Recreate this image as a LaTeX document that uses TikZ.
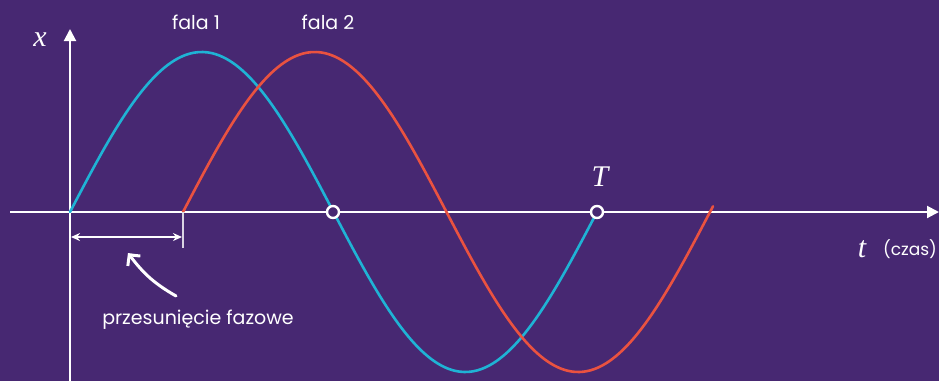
\documentclass[tikz,border=0pt]{standalone}
\usepackage{fontspec}
\setmainfont{Poppins}
\newfontfamily\mathlike{Liberation Serif}
\usetikzlibrary{arrows.meta,bending}
\definecolor{bgpurple}{HTML}{472872}
\definecolor{waveblue}{HTML}{1FB3D5}
\definecolor{wavered}{HTML}{EA5240}
\tikzset{
  axisline/.style={white, line width=2pt, -{Triangle[length=12pt,width=12pt]}},
  wave/.style={line width=2.6pt, line cap=round},
  zeropt/.style={circle, draw=white, fill=bgpurple, line width=2.4pt, minimum size=12pt, inner sep=0pt},
  varlabel/.style={text=white, font=\fontsize{30}{30}\selectfont\mathlike\itshape, inner sep=0pt},
  wordlabel/.style={text=white, font=\fontsize{19}{21}\selectfont, inner sep=0pt},
}
\begin{document}
\begin{tikzpicture}[x=1pt,y=-1pt]
\useasboundingbox[fill=bgpurple] (0,0) rectangle (939,381);
% axes
\coordinate (xs) at (10,212);
\coordinate (xe) at (939,212);
\coordinate (ys) at (70,381);
\coordinate (ye) at (70,29);
\draw[axisline] (xs) -- (xe);
\draw[axisline] (ys) -- (ye);
% waves
\draw[wave, waveblue] plot[smooth, samples=120, domain=0:527] ({70+\x},{212-160*sin(0.683112*\x)});
\draw[wave, wavered] plot[smooth, samples=120, domain=0:530] ({183+\x},{212-160*sin(0.683112*\x)});
% zero points
\node[zeropt] (z1) at (333,212) {};
\node[zeropt] (z2) at (597,212) {};
% labels
\node[varlabel] (lx) at (40,40) {x};
\node[varlabel, anchor=base] (lT) at (600,186) {T};
\node[varlabel, anchor=base] (lt) at (862,257) {t};
\node[text=white, font=\fontsize{17}{19}\selectfont, inner sep=0pt, anchor=base] (lczas) at (910,255) {(czas)};
\node[wordlabel] (f1) at (196,22) {fala 1};
\node[wordlabel] (f2) at (328,22) {fala 2};
\node[wordlabel] (ps) at (198,320) {przesunięcie fazowe};
% phase shift marker
\coordinate (ta) at (183,212);
\coordinate (tb) at (183,248);
\draw[white!80!bgpurple, line width=1.5pt] (ta) -- (tb);
\coordinate (pa) at (71,237);
\coordinate (pb) at (182,237);
\draw[white, line width=2pt, {Stealth[length=9pt,width=8pt]}-{Stealth[length=9pt,width=8pt]}] (pa) -- (pb);
\coordinate (ca) at (176,296);
\coordinate (cb) at (128,253);
\draw[white, line width=3pt, line cap=round, -{Straight Barb[length=8pt,width=16pt,line width=3pt,bend]}] (ca) to[bend left=12] (cb);
\end{tikzpicture}
\end{document}
